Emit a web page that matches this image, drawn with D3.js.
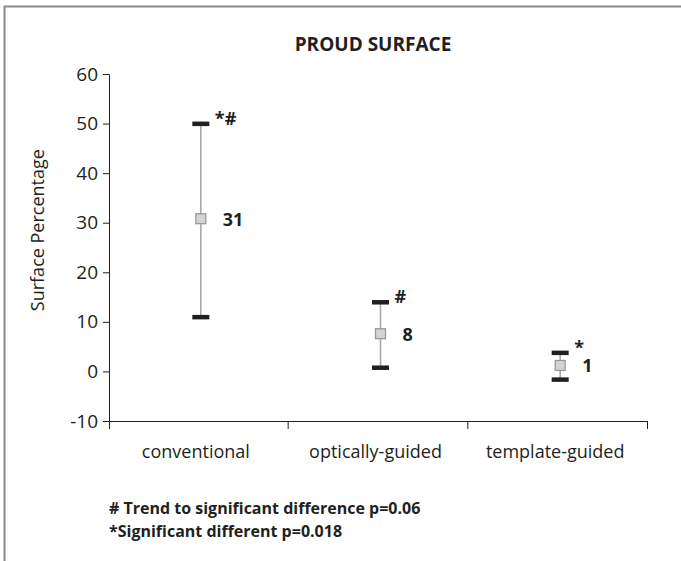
<!DOCTYPE html>
<html>
<head>
<meta charset="utf-8">
<script src="https://cdn.jsdelivr.net/npm/d3@7"></script>
<style>
  body { margin: 0; background: #fff; }
  svg { font-family: "Open Sans", sans-serif; }
</style>
</head>
<body>
<div id="chart-area"></div>
<script>
const CATEGORIES = ['conventional', 'optically-guided', 'template-guided'];
const MEANS = [30.8, 7.6, 1.2];
const LOWS = [11, 0.8, -1.6];
const HIGHS = [50, 14, 3.8];
const MEAN_LABELS = ['31', '8', '1'];
const SIG_MARKS = ['*#', '#', '*'];
const Y_TICKS = [-10, 0, 10, 20, 30, 40, 50, 60];
const NOTES = ['# Trend to significant difference p=0.06', '*Significant different p=0.018'];

const W = 681, H = 561;
const margin = { top: 74, right: 33, bottom: 140, left: 109 };
const width = W - margin.left - margin.right;
const height = H - margin.top - margin.bottom;
const INK = '#231f20';

const svg = d3.select('#chart-area')
  .append('svg')
  .attr('width', W)
  .attr('height', H);

// frame (only top and left edges are visible in the source)
svg.append('path')
  .attr('d', `M4.5,${H} V6.5 H${W}`)
  .attr('fill', 'none')
  .attr('stroke', '#8a8a8a')
  .attr('stroke-width', 2);

svg.append('text')
  .attr('x', 373)
  .attr('y', 51)
  .attr('text-anchor', 'middle')
  .style('font-weight', 700)
  .style('font-size', '19px')
  .attr('fill', INK)
  .text('PROUD SURFACE');

const chart = svg.append('g')
  .attr('transform', `translate(${margin.left},${margin.top})`);

const x = d3.scaleBand()
  .domain(CATEGORIES)
  .range([0, width]);

const y = d3.scaleLinear()
  .domain([-10, 60])
  .range([height, 0]);

const yAxis = d3.axisLeft(y)
  .tickValues(Y_TICKS)
  .tickFormat((d) => String(d))
  .tickSize(6)
  .tickPadding(5);
const xAxis = d3.axisBottom(x).tickSize(0).tickPadding(24);

const gy = chart.append('g').call(yAxis).attr('font-family', null);
gy.select('.domain').attr('d', `M-6,0.5H0.5V${height + 8}`);
gy.selectAll('text')
  .style('font-size', '19px')
  .style('font-weight', 400)
  .attr('fill', INK);

const gx = chart.append('g')
  .attr('transform', `translate(0,${height})`)
  .call(xAxis)
  .attr('font-family', null);
gx.select('.domain').remove();
gx.selectAll('text')
  .attr('dx', -3)
  .style('font-size', '18px')
  .style('font-weight', 400)
  .attr('fill', INK);

// x axis line with separators at band edges
chart.append('line')
  .attr('x1', 0).attr('x2', width)
  .attr('y1', height + 0.5).attr('y2', height + 0.5)
  .attr('stroke', INK);
chart.selectAll('.sep')
  .data([...CATEGORIES.slice(1), null])
  .enter()
  .append('line')
  .attr('class', 'sep')
  .attr('x1', (d) => (d ? x(d) : width) - 0.5)
  .attr('x2', (d) => (d ? x(d) : width) - 0.5)
  .attr('y1', height)
  .attr('y2', height + 8)
  .attr('stroke', INK);

chart.selectAll('.tick line, .domain').attr('stroke', INK);

const rows = CATEGORIES.map((c, i) => ({
  cat: c, mean: MEANS[i], lo: LOWS[i], hi: HIGHS[i],
  label: MEAN_LABELS[i], sig: SIG_MARKS[i],
}));
const cx = (d) => x(d.cat) + x.bandwidth() / 2 + 2;

const g = chart.selectAll('.err')
  .data(rows)
  .enter()
  .append('g')
  .attr('class', 'err');

g.append('line')
  .attr('x1', cx).attr('x2', cx)
  .attr('y1', (d) => y(d.hi)).attr('y2', (d) => y(d.lo))
  .attr('stroke', '#a7a9ac')
  .attr('stroke-width', 1.6);

g.selectAll('.cap')
  .data((d) => [d.hi, d.lo].map((v) => ({ v, d })))
  .enter()
  .append('rect')
  .attr('x', (c) => cx(c.d) - 8.5)
  .attr('y', (c) => y(c.v) - 2)
  .attr('width', 17)
  .attr('height', 4.5)
  .attr('fill', INK);

g.append('rect')
  .attr('x', (d) => cx(d) - 5)
  .attr('y', (d) => y(d.mean) - 5)
  .attr('width', 10)
  .attr('height', 10)
  .attr('fill', '#d1d3d4')
  .attr('stroke', '#939598')
  .attr('stroke-width', 1.2);

g.append('text')
  .attr('x', (d) => cx(d) + 22)
  .attr('y', (d) => y(d.mean) + 7)
  .style('font-weight', 700)
  .style('font-size', '18px')
  .attr('fill', INK)
  .text((d) => d.label);

g.append('text')
  .attr('x', (d) => cx(d) + 14)
  .attr('y', (d) => y(d.hi) + 1)
  .style('font-weight', 700)
  .style('font-size', '18px')
  .attr('fill', INK)
  .text((d) => d.sig);

svg.append('text')
  .attr('transform', `translate(44,${margin.top + y(28.5)}) rotate(-90)`)
  .attr('text-anchor', 'middle')
  .style('font-size', '18px')
  .style('font-weight', 400)
  .attr('fill', INK)
  .text('Surface Percentage');

svg.selectAll('.note')
  .data(NOTES)
  .enter()
  .append('text')
  .attr('class', 'note')
  .attr('x', 109)
  .attr('y', (d, i) => 514 + i * 23)
  .style('font-weight', 700)
  .style('font-size', '16px')
  .attr('fill', INK)
  .text((d) => d);
</script>
</body>
</html>
